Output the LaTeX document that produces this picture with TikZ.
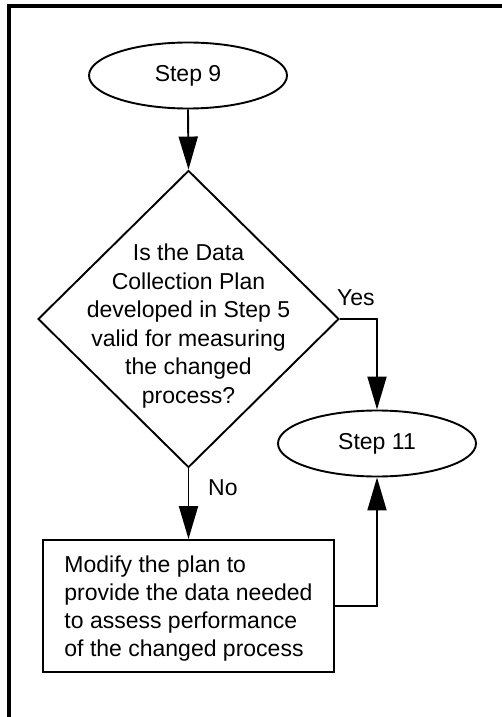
\documentclass[tikz,border=0pt]{standalone}
\usepackage{fontspec}
\setmainfont{Liberation Sans}
\usetikzlibrary{shapes.geometric,arrows.meta}
\begin{document}
\begin{tikzpicture}[x=1pt,y=-1pt,
  txt/.style={font=\fontsize{23}{28.5}\selectfont, inner sep=0pt},
  term/.style={ellipse, draw, line width=1.9pt, minimum width=198pt, minimum height=66pt, inner sep=0pt, font=\fontsize{23}{28.5}\selectfont},
  decision/.style={diamond, draw, line width=1.9pt, minimum width=301pt, minimum height=297pt, inner sep=0pt},
  process/.style={rectangle, draw, line width=1.9pt, minimum width=291pt, minimum height=132pt, inner sep=0pt},
  boxtext/.style={align=left, inner sep=0pt, font=\fontsize{23}{27.8}\selectfont},
  conn/.style={line width=1.9pt, -{Triangle[length=33pt,width=19pt]}},
  frameline/.style={line width=4pt}]
\useasboundingbox (0,0) rectangle (502,717);
\draw[frameline] (9.3,730) -- (9.3,6) -- (520,6);

\node[term] (s9) at (188,75.5) {Step 9};
\node[decision] (q) at (188.5,319) {};
\node[txt, align=center] (qt) at (188.5,326) {Is the Data\\Collection Plan\\developed in Step 5\\valid for measuring\\the changed\\process?};
\node[term] (s11) at (377,443.5) {Step 11};
\node[process] (box) at (188.5,606) {};
\node[boxtext] (boxt) at (188.5,608.5) {Modify the plan to\\provide the data needed\\to assess performance\\of the changed process};

\draw[conn] (s9.south) -- (q.north);
\draw[conn] (q.east) -| (s11.north);
\draw[conn] (q.south) -- (box.north);
\draw[conn] (box.east) -| (s11.south);

\node[txt, anchor=base west] (yes) at (337,305) {Yes};
\node[txt, anchor=base west] (no) at (208,495) {No};
\end{tikzpicture}
\end{document}
